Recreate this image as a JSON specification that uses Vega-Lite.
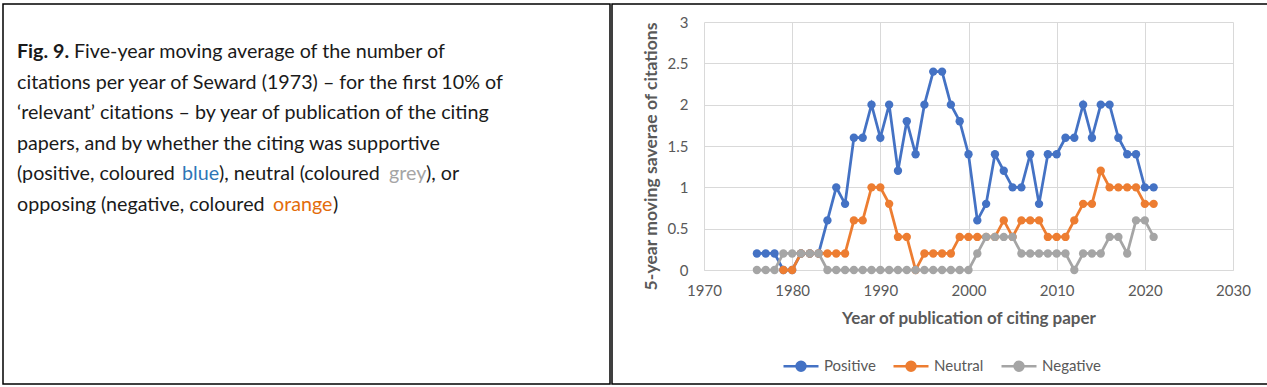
{
  "$schema": "https://vega.github.io/schema/vega-lite/v6.json",
  "padding": {"left": 2, "top": 3, "right": 0, "bottom": 0},
  "spacing": 0,
  "config": {
    "view": {"stroke": "#000000", "strokeWidth": 1.5},
    "concat": {"spacing": 0}
  },
  "datasets": {
    "caption": [
      {"line": 1, "seg": "fig", "text": "Fig. 9."},
      {"line": 1, "seg": "l1", "text": "Five-year moving average of the number of"},
      {"line": 2, "seg": "start", "text": "citations per year of Seward (1973) – for the first 10% of"},
      {"line": 3, "seg": "start", "text": "‘relevant’ citations – by year of publication of the citing"},
      {"line": 4, "seg": "start", "text": "papers, and by whether the citing was supportive"},
      {"line": 5, "seg": "start", "text": "(positive, coloured"},
      {"line": 5, "seg": "blue", "text": "blue"},
      {"line": 5, "seg": "p5c", "text": "), neutral (coloured"},
      {"line": 5, "seg": "grey", "text": "grey"},
      {"line": 5, "seg": "p5e", "text": "), or"},
      {"line": 6, "seg": "start", "text": "opposing (negative, coloured"},
      {"line": 6, "seg": "orange", "text": "orange"},
      {"line": 6, "seg": "p6c", "text": ")"}
    ],
    "cit": [
      {"year": 1976, "Positive": 0.2, "Neutral": null, "Negative": 0},
      {"year": 1977, "Positive": 0.2, "Neutral": null, "Negative": 0},
      {"year": 1978, "Positive": 0.2, "Neutral": null, "Negative": 0},
      {"year": 1979, "Positive": 0, "Neutral": 0, "Negative": 0.2},
      {"year": 1980, "Positive": 0, "Neutral": 0, "Negative": 0.2},
      {"year": 1981, "Positive": 0.2, "Neutral": 0.2, "Negative": 0.2},
      {"year": 1982, "Positive": 0.2, "Neutral": 0.2, "Negative": 0.2},
      {"year": 1983, "Positive": 0.2, "Neutral": 0.2, "Negative": 0.2},
      {"year": 1984, "Positive": 0.6, "Neutral": 0.2, "Negative": 0},
      {"year": 1985, "Positive": 1.0, "Neutral": 0.2, "Negative": 0},
      {"year": 1986, "Positive": 0.8, "Neutral": 0.2, "Negative": 0},
      {"year": 1987, "Positive": 1.6, "Neutral": 0.6, "Negative": 0},
      {"year": 1988, "Positive": 1.6, "Neutral": 0.6, "Negative": 0},
      {"year": 1989, "Positive": 2.0, "Neutral": 1.0, "Negative": 0},
      {"year": 1990, "Positive": 1.6, "Neutral": 1.0, "Negative": 0},
      {"year": 1991, "Positive": 2.0, "Neutral": 0.8, "Negative": 0},
      {"year": 1992, "Positive": 1.2, "Neutral": 0.4, "Negative": 0},
      {"year": 1993, "Positive": 1.8, "Neutral": 0.4, "Negative": 0},
      {"year": 1994, "Positive": 1.4, "Neutral": 0, "Negative": 0},
      {"year": 1995, "Positive": 2.0, "Neutral": 0.2, "Negative": 0},
      {"year": 1996, "Positive": 2.4, "Neutral": 0.2, "Negative": 0},
      {"year": 1997, "Positive": 2.4, "Neutral": 0.2, "Negative": 0},
      {"year": 1998, "Positive": 2.0, "Neutral": 0.2, "Negative": 0},
      {"year": 1999, "Positive": 1.8, "Neutral": 0.4, "Negative": 0},
      {"year": 2000, "Positive": 1.4, "Neutral": 0.4, "Negative": 0},
      {"year": 2001, "Positive": 0.6, "Neutral": 0.4, "Negative": 0.2},
      {"year": 2002, "Positive": 0.8, "Neutral": 0.4, "Negative": 0.4},
      {"year": 2003, "Positive": 1.4, "Neutral": 0.4, "Negative": 0.4},
      {"year": 2004, "Positive": 1.2, "Neutral": 0.6, "Negative": 0.4},
      {"year": 2005, "Positive": 1.0, "Neutral": 0.4, "Negative": 0.4},
      {"year": 2006, "Positive": 1.0, "Neutral": 0.6, "Negative": 0.2},
      {"year": 2007, "Positive": 1.4, "Neutral": 0.6, "Negative": 0.2},
      {"year": 2008, "Positive": 0.8, "Neutral": 0.6, "Negative": 0.2},
      {"year": 2009, "Positive": 1.4, "Neutral": 0.4, "Negative": 0.2},
      {"year": 2010, "Positive": 1.4, "Neutral": 0.4, "Negative": 0.2},
      {"year": 2011, "Positive": 1.6, "Neutral": 0.4, "Negative": 0.2},
      {"year": 2012, "Positive": 1.6, "Neutral": 0.6, "Negative": 0},
      {"year": 2013, "Positive": 2.0, "Neutral": 0.8, "Negative": 0.2},
      {"year": 2014, "Positive": 1.6, "Neutral": 0.8, "Negative": 0.2},
      {"year": 2015, "Positive": 2.0, "Neutral": 1.2, "Negative": 0.2},
      {"year": 2016, "Positive": 2.0, "Neutral": 1.0, "Negative": 0.4},
      {"year": 2017, "Positive": 1.6, "Neutral": 1.0, "Negative": 0.4},
      {"year": 2018, "Positive": 1.4, "Neutral": 1.0, "Negative": 0.2},
      {"year": 2019, "Positive": 1.4, "Neutral": 1.0, "Negative": 0.6},
      {"year": 2020, "Positive": 1.0, "Neutral": 0.8, "Negative": 0.6},
      {"year": 2021, "Positive": 1.0, "Neutral": 0.8, "Negative": 0.4}
    ]
  },
  "hconcat": [
    {
      "width": 607,
      "height": 380,
      "data": {"name": "caption"},
      "encoding": {
        "y": {"field": "line", "type": "quantitative", "scale": {"domain": [-0.57, 11.85], "reverse": true, "nice": false, "zero": false}, "axis": null},
        "text": {"field": "text"}
      },
      "layer": [
        {"transform": [{"filter": "datum.seg === 'start'"}], "mark": {"type": "text", "align": "left", "baseline": "middle", "font": "Lato", "fontSize": 19.7, "color": "#1a1a1a"}, "encoding": {"x": {"value": 14}}},
        {"transform": [{"filter": "datum.seg === 'fig'"}], "mark": {"type": "text", "align": "left", "baseline": "middle", "font": "Lato", "fontSize": 19.7, "fontWeight": "bold", "color": "#1a1a1a"}, "encoding": {"x": {"value": 14}}},
        {"transform": [{"filter": "datum.seg === 'l1'"}], "mark": {"type": "text", "align": "left", "baseline": "middle", "font": "Lato", "fontSize": 19.7, "color": "#1a1a1a"}, "encoding": {"x": {"value": 71}}},
        {"transform": [{"filter": "datum.seg === 'blue'"}], "mark": {"type": "text", "align": "left", "baseline": "middle", "font": "Lato", "fontSize": 19.7, "color": "#2E75B6"}, "encoding": {"x": {"value": 179}}},
        {"transform": [{"filter": "datum.seg === 'p5c'"}], "mark": {"type": "text", "align": "left", "baseline": "middle", "font": "Lato", "fontSize": 19.7, "color": "#1a1a1a"}, "encoding": {"x": {"value": 216}}},
        {"transform": [{"filter": "datum.seg === 'grey'"}], "mark": {"type": "text", "align": "left", "baseline": "middle", "font": "Lato", "fontSize": 19.7, "color": "#A5A5A5"}, "encoding": {"x": {"value": 386}}},
        {"transform": [{"filter": "datum.seg === 'p5e'"}], "mark": {"type": "text", "align": "left", "baseline": "middle", "font": "Lato", "fontSize": 19.7, "color": "#1a1a1a"}, "encoding": {"x": {"value": 423}}},
        {"transform": [{"filter": "datum.seg === 'orange'"}], "mark": {"type": "text", "align": "left", "baseline": "middle", "font": "Lato", "fontSize": 19.7, "color": "#E36C0A"}, "encoding": {"x": {"value": 270}}},
        {"transform": [{"filter": "datum.seg === 'p6c'"}], "mark": {"type": "text", "align": "left", "baseline": "middle", "font": "Lato", "fontSize": 19.7, "color": "#1a1a1a"}, "encoding": {"x": {"value": 330}}}
      ]
    },
    {
      "width": 656,
      "height": 380,
      "data": {"name": "cit"},
      "transform": [
        {"fold": ["Positive", "Neutral", "Negative"], "as": ["series", "value"]},
        {"filter": "isValid(datum.value)"}
      ],
      "encoding": {
        "x": {
          "field": "year", "type": "quantitative",
          "scale": {"domain": [1970, 2030], "range": [92, 621], "nice": false, "zero": false},
          "axis": {
            "values": [1970, 1980, 1990, 2000, 2010, 2020, 2030], "format": "d", "offset": -114,
            "grid": false, "ticks": true, "tickSize": -248, "tickColor": "#D9D9D9", "tickWidth": 1,
            "domainColor": "#D9D9D9", "domainWidth": 1, "labelFlush": false,
            "labelFont": "Lato", "labelFontSize": 15, "labelColor": "#595959", "labelPadding": 261,
            "title": "Year of publication of citing paper", "titleFont": "Lato", "titleFontSize": 17,
            "titleFontWeight": "bold", "titleColor": "#595959", "titlePadding": 12
          }
        },
        "y": {
          "field": "value", "type": "quantitative",
          "scale": {"domain": [0, 3], "range": [266, 18], "nice": false, "zero": false},
          "axis": {
            "values": [0, 0.5, 1, 1.5, 2, 2.5, 3], "format": "~g", "offset": -92,
            "grid": false, "ticks": true, "tickSize": -529, "tickColor": "#D9D9D9", "tickWidth": 1,
            "domain": false, "labelFlush": false,
            "labelFont": "Lato", "labelFontSize": 15, "labelColor": "#595959", "labelPadding": 545,
            "title": "5-year moving saverae of citations", "titleFont": "Lato", "titleFontSize": 17.6,
            "titleFontWeight": "bold", "titleColor": "#595959", "titlePadding": 7, "titleY": 152
          }
        },
        "color": {
          "field": "series", "type": "nominal",
          "scale": {"domain": ["Positive", "Neutral", "Negative"], "range": ["#4472C4", "#ED7D31", "#A5A5A5"]},
          "legend": {
            "orient": "none", "legendX": 779, "legendY": 343, "direction": "horizontal", "title": null,
            "padding": 0,
            "symbolType": "M-1,0L1,0M-0.257,0A0.257,0.257 0 1,0 0.257,0A0.257,0.257 0 1,0 -0.257,0Z",
            "symbolSize": 1225, "symbolStrokeWidth": 2.5,
            "labelFont": "Lato", "labelFontSize": 15, "labelColor": "#595959",
            "columnPadding": 12, "labelOffset": 4,
            "encode": {"symbols": {"update": {"fill": {"scale": "color", "field": "value"}, "stroke": {"scale": "color", "field": "value"}, "opacity": {"value": 1}}}}
          }
        }
      },
      "layer": [
        {"transform": [{"filter": "datum.series === 'Positive'"}], "mark": {"type": "line", "strokeWidth": 2.75, "point": {"filled": true, "size": 70, "opacity": 1}}},
        {"transform": [{"filter": "datum.series === 'Neutral'"}], "mark": {"type": "line", "strokeWidth": 2.75, "point": {"filled": true, "size": 70, "opacity": 1}}},
        {"transform": [{"filter": "datum.series === 'Negative'"}], "mark": {"type": "line", "strokeWidth": 2.75, "point": {"filled": true, "size": 70, "opacity": 1}}}
      ]
    }
  ]
}
